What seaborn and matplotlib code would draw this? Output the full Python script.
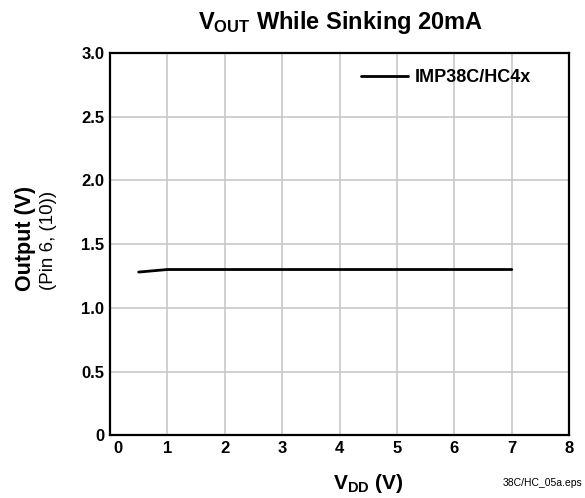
import matplotlib
matplotlib.use('Agg')
import matplotlib.pyplot as plt
import matplotlib.transforms as mtransforms
import seaborn as sns
import pandas as pd

# Data
vdd = [0.5, 1.0, 2.0, 3.0, 4.0, 5.0, 6.0, 7.0]
vout = [1.28, 1.30, 1.30, 1.30, 1.30, 1.30, 1.30, 1.30]
series_name = 'IMP38C/HC4x'
x_ticks = [0, 1, 2, 3, 4, 5, 6, 7, 8]
y_ticks = [0, 0.5, 1.0, 1.5, 2.0, 2.5, 3.0]
y_tick_labels = ['0', '0.5', '1.0', '1.5', '2.0', '2.5', '3.0']

df = pd.DataFrame({'VDD': vdd, 'Output': vout, 'Device': series_name})

sns.set_style('white')
plt.rcParams['font.family'] = ['Liberation Sans', 'DejaVu Sans']
plt.rcParams['text.color'] = 'black'
plt.rcParams['xtick.color'] = 'black'
plt.rcParams['ytick.color'] = 'black'
plt.rcParams['mathtext.fontset'] = 'custom'
plt.rcParams['mathtext.rm'] = 'Liberation Sans'
plt.rcParams['mathtext.bf'] = 'Liberation Sans:bold'

fig = plt.figure(figsize=(5.85, 4.98), dpi=100)
ax = fig.add_axes([0.188, 0.126, 0.785, 0.768])

sns.lineplot(data=df, x='VDD', y='Output', hue='Device', palette=['black'],
             linewidth=2, ax=ax)

ax.set_xlim(0, 8)
ax.set_ylim(0, 3.0)
ax.set_xticks(x_ticks)
ax.set_yticks(y_ticks)
ax.set_yticklabels(y_tick_labels)
ax.grid(True, color='#c8c8c8', linewidth=1.2)
ax.tick_params(length=0, labelsize=12, pad=4)
for lab in ax.get_xticklabels() + ax.get_yticklabels():
    lab.set_fontweight('bold')
# the "0" on the x axis sits a little right of the corner
first = ax.get_xticklabels()[0]
first.set_transform(first.get_transform() +
                    mtransforms.ScaledTranslation(0.08, 0, fig.dpi_scale_trans))
for sp in ax.spines.values():
    sp.set_color('black')
    sp.set_linewidth(1.6)

ax.set_xlabel('')
ax.set_ylabel('')
leg = ax.legend(frameon=False, loc='center left', bbox_to_anchor=(0.53, 0.935),
                prop={'weight': 'bold', 'size': 13}, handlelength=2.6,
                handletextpad=0.4, borderaxespad=0)

fig.text(0.583, 0.955, r'$\mathbf{V_{OUT}}$ While Sinking 20mA', ha='center', va='center',
         fontsize=17, fontweight='bold')
fig.text(0.63, 0.03, r'$\mathbf{V_{DD}}$ (V)', ha='center', va='center',
         fontsize=15, fontweight='bold')
fig.text(0.044, 0.522, 'Output (V)', rotation=90, ha='center', va='center',
         fontsize=15.5, fontweight='bold')
fig.text(0.083, 0.518, '(Pin 6, (10))', rotation=90, ha='center', va='center',
         fontsize=13.5)
fig.text(0.995, 0.03, '38C/HC_05a.eps', ha='right', va='center', fontsize=7.5)

fig.savefig('out.png', dpi=100)
